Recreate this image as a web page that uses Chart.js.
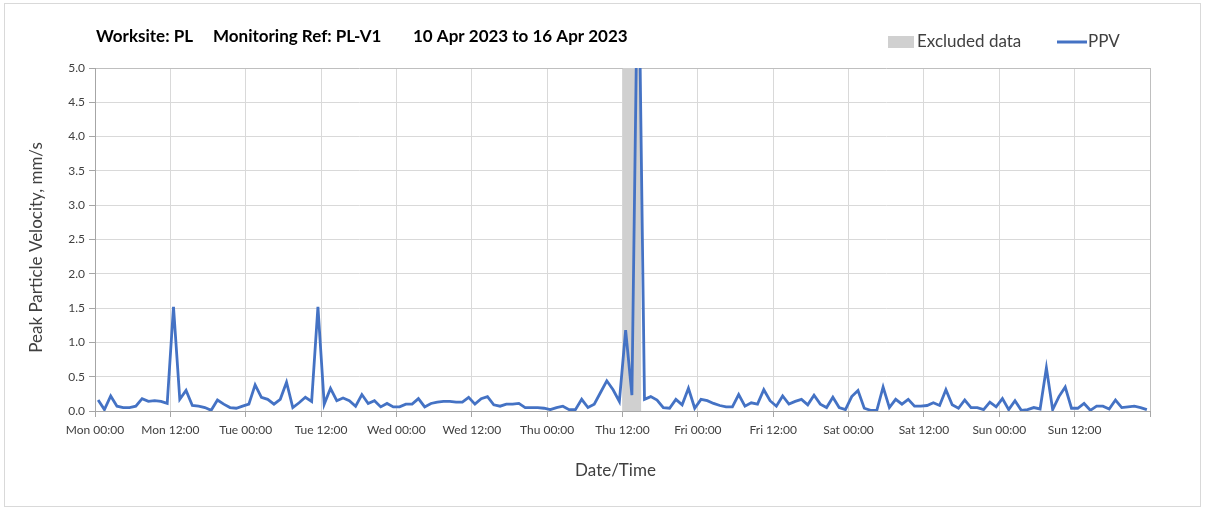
<!DOCTYPE html>
<html>
<head>
<meta charset="utf-8">
<script src="https://cdn.jsdelivr.net/npm/chart.js@4.4.0/dist/chart.umd.min.js"></script>
<style>
  html, body { margin: 0; padding: 0; background: #fff; }
  #ppvChart { display: block; }
</style>
</head>
<body>
<canvas id="ppvChart" width="1208" height="510"></canvas>
<script>
// hours from Mon 10 Apr 2023 00:00, one reading per hour
const tickLabels = [
  "Mon 00:00", "Mon 12:00", "Tue 00:00", "Tue 12:00", "Wed 00:00", "Wed 12:00",
  "Thu 00:00", "Thu 12:00", "Fri 00:00", "Fri 12:00", "Sat 00:00", "Sat 12:00",
  "Sun 00:00", "Sun 12:00", ""
];

const ppvValues = [
  0.16, 0.02, 0.22, 0.07, 0.05, 0.05, 0.07, 0.18, 0.14, 0.15, 0.14, 0.11,
  1.52, 0.17, 0.30, 0.08, 0.07, 0.05, 0.01, 0.16, 0.10, 0.05, 0.04, 0.07,
  0.10, 0.38, 0.20, 0.17, 0.10, 0.17, 0.42, 0.05, 0.12, 0.20, 0.14, 1.52,
  0.10, 0.33, 0.15, 0.19, 0.15, 0.07, 0.24, 0.11, 0.15, 0.06, 0.11, 0.06,
  0.06, 0.10, 0.10, 0.18, 0.06, 0.11, 0.13, 0.14, 0.14, 0.13, 0.13, 0.20,
  0.10, 0.18, 0.21, 0.09, 0.07, 0.10, 0.10, 0.11, 0.05, 0.05, 0.05, 0.04,
  0.02, 0.05, 0.07, 0.02, 0.02, 0.17, 0.05, 0.10, 0.27, 0.44, 0.31, 0.14,
  1.18, 0.23, 7.2, 0.17, 0.21, 0.16, 0.05, 0.04, 0.17, 0.09, 0.33, 0.04,
  0.17, 0.15, 0.11, 0.08, 0.06, 0.06, 0.24, 0.07, 0.12, 0.10, 0.31, 0.15,
  0.07, 0.22, 0.10, 0.14, 0.17, 0.09, 0.23, 0.10, 0.05, 0.20, 0.05, 0.02,
  0.21, 0.30, 0.04, 0.01, 0.01, 0.35, 0.05, 0.17, 0.10, 0.17, 0.07, 0.07,
  0.08, 0.12, 0.08, 0.31, 0.09, 0.04, 0.16, 0.05, 0.05, 0.02, 0.13, 0.06,
  0.18, 0.02, 0.15, 0.01, 0.02, 0.05, 0.03, 0.63, 0.02, 0.21, 0.35, 0.04,
  0.04, 0.11, 0.01, 0.07, 0.07, 0.03, 0.16, 0.05, 0.06, 0.07, 0.05, 0.02
];

const excludedHours = [84, 87];
const titleParts = ["Worksite: PL", "Monitoring Ref: PL-V1", "10 Apr 2023 to 16 Apr 2023"];
const legendNames = ["Excluded data", "PPV"];
const yTitle = "Peak Particle Velocity, mm/s";
const xTitle = "Date/Time";

const FONT = 'Lato, "Open Sans", sans-serif';
const BLUE = "#4472c4";
const BAND = "#d0d0d0";
const TEXT = "#404040";

const ppvPoints = ppvValues.map((v, i) => ({ x: i + 0.5, y: v }));
const bandPoints = excludedHours.map((h) => ({ x: h, y: 5 }));

const decorations = {
  id: "decorations",
  beforeDraw(chart) {
    const ctx = chart.ctx;
    ctx.save();
    ctx.fillStyle = "#fff";
    ctx.fillRect(0, 0, chart.width, chart.height);
    ctx.strokeStyle = "#d9d9d9";
    ctx.lineWidth = 1;
    ctx.strokeRect(4.5, 3.5, 1196, 503);
    ctx.restore();
  },
  afterDraw(chart) {
    const { ctx, chartArea } = chart;
    ctx.save();
    ctx.textBaseline = "middle";
    ctx.textAlign = "left";

    // title
    ctx.fillStyle = "#000";
    ctx.font = "bold 17px " + FONT;
    ctx.fillText(titleParts[0], 96, 37);
    ctx.fillText(titleParts[1], 213, 37);
    ctx.fillText(titleParts[2], 413, 37);

    // legend
    ctx.font = "17px " + FONT;
    ctx.fillStyle = BAND;
    ctx.fillRect(888, 36, 26, 12);
    ctx.fillStyle = TEXT;
    ctx.fillText(legendNames[0], 917, 42);
    ctx.strokeStyle = BLUE;
    ctx.lineWidth = 3;
    ctx.beginPath();
    ctx.moveTo(1057, 42);
    ctx.lineTo(1087, 42);
    ctx.stroke();
    ctx.fillText(legendNames[1], 1088, 42);

    // axis titles
    ctx.textAlign = "center";
    ctx.fillText(xTitle, (chartArea.left + chartArea.right) / 2 - 7, 471);
    ctx.translate(37, (chartArea.top + chartArea.bottom) / 2 + 8);
    ctx.rotate(-Math.PI / 2);
    ctx.fillText(yTitle, 0, 0);
    ctx.restore();
  }
};

new Chart(document.getElementById("ppvChart"), {
  type: "line",
  data: {
    datasets: [
      {
        label: legendNames[1],
        data: ppvPoints,
        borderColor: BLUE,
        borderWidth: 2.8,
        pointRadius: 0,
        tension: 0,
        fill: false,
        clip: 0,
        order: 1
      },
      {
        label: legendNames[0],
        data: bandPoints,
        borderWidth: 0,
        pointRadius: 0,
        backgroundColor: BAND,
        fill: "origin",
        order: 2
      }
    ]
  },
  options: {
    responsive: false,
    animation: false,
    layout: { padding: { top: 68, right: 58, left: 0, bottom: 0 } },
    plugins: {
      legend: { display: false },
      tooltip: { enabled: false }
    },
    scales: {
      x: {
        type: "linear",
        min: 0,
        max: 168,
        afterFit: (scale) => { scale.height = 99; },
        ticks: {
          stepSize: 12,
          autoSkip: false,
          maxRotation: 0,
          padding: 6,
          color: TEXT,
          font: { family: FONT, size: 12 },
          callback: (v) => tickLabels[v / 12] ?? ""
        },
        grid: {
          color: (c) => (c.tick && c.tick.value === 168 ? "#bfbfbf" : "#d9d9d9"),
          tickColor: "#a6a6a6",
          tickLength: 6
        },
        border: { color: "#a6a6a6" }
      },
      y: {
        min: 0,
        max: 5,
        afterFit: (scale) => { scale.width = 95; },
        ticks: {
          stepSize: 0.5,
          padding: 4,
          color: TEXT,
          font: { family: FONT, size: 12 },
          callback: (v) => v.toFixed(1)
        },
        grid: {
          color: (c) => (c.tick && c.tick.value === 5 ? "#bfbfbf" : "#d9d9d9"),
          tickColor: "#a6a6a6",
          tickLength: 6
        },
        border: { color: "#a6a6a6" }
      }
    }
  },
  plugins: [decorations]
});
</script>
</body>
</html>
